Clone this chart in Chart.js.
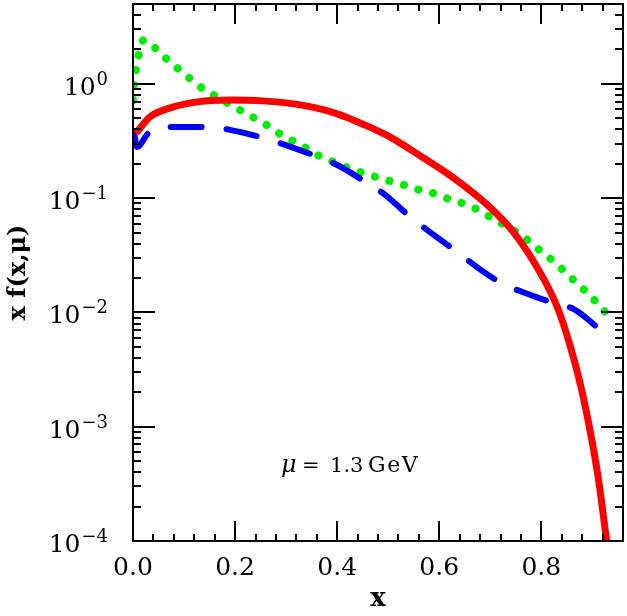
<!DOCTYPE html>
<html>
<head>
<meta charset="utf-8">
<script src="https://cdn.jsdelivr.net/npm/chart.js@4"></script>
<style>
  body { margin: 0; background: #fff; }
  #box { width: 627px; height: 616px; }
</style>
</head>
<body>
<div id="box"><canvas id="grafico"></canvas></div>
<script>
// curvas (x, x f(x,mu))
const redX = [0.006, 0.033, 0.073, 0.126, 0.19, 0.255, 0.322, 0.367, 0.406, 0.431, 0.465, 0.498, 0.563, 0.628, 0.694, 0.745, 0.798, 0.831, 0.857, 0.882, 0.91, 0.928];
const redY = [0.37, 0.514, 0.617, 0.696, 0.724, 0.71, 0.662, 0.604, 0.536, 0.484, 0.416, 0.354, 0.2345, 0.1505, 0.0874, 0.0507, 0.0222, 0.0112, 0.005, 0.00183, 0.000395, 0.0001];

const blueX = [0.002, 0.008, 0.03, 0.078, 0.147, 0.19, 0.255, 0.33, 0.40, 0.455, 0.494, 0.543, 0.576, 0.616, 0.72, 0.763, 0.824, 0.867, 0.916];
const blueY = [0.37, 0.28, 0.37, 0.42, 0.42, 0.396, 0.337, 0.26, 0.195, 0.139, 0.107, 0.0686, 0.0528, 0.039, 0.0182, 0.0151, 0.0121, 0.0105, 0.007];

const greenX = [0.0, 0.002, 0.006, 0.012, 0.02, 0.043, 0.066, 0.089, 0.113, 0.138, 0.164, 0.19, 0.216, 0.242, 0.272, 0.298, 0.326, 0.352, 0.38, 0.407, 0.437, 0.466, 0.496, 0.525, 0.555, 0.584, 0.614, 0.643, 0.671, 0.698, 0.725, 0.753, 0.776, 0.80, 0.824, 0.849, 0.87, 0.892, 0.914, 0.933];
const greenY = [0.72, 1.0, 1.35, 1.85, 2.4, 2.07, 1.65, 1.35, 1.1, 0.90, 0.77, 0.66, 0.57, 0.49, 0.41, 0.34, 0.30, 0.25, 0.22, 0.195, 0.174, 0.158, 0.144, 0.133, 0.12, 0.112, 0.10, 0.091, 0.081, 0.069, 0.059, 0.050, 0.042, 0.034, 0.028, 0.022, 0.018, 0.0145, 0.0115, 0.0092];

const xMajor = [0, 0.2, 0.4, 0.6, 0.8];
const yDecades = [-4, -3, -2, -1, 0];
const anotacao = ["=", "1.3", "GeV"];

const serif = "'DejaVu Serif', serif";

function pontos(xs, ys) {
    return xs.map((x, i) => ({ x: x, y: ys[i] }));
}

// moldura, ticks para dentro, rótulos do eixo y e a anotação
const molduraPlugin = {
    id: "moldura",
    afterDraw(chart) {
        const ctx = chart.ctx;
        const a = chart.chartArea;
        const sx = chart.scales.x, sy = chart.scales.y;
        ctx.save();
        ctx.strokeStyle = "#000";
        ctx.lineWidth = 2;
        ctx.beginPath();
        // ticks x (maiores a cada 0.2, menores a cada 0.04)
        for (let k = 0; k <= 24; k++) {
            const v = k * 0.04;
            const px = Math.round(sx.getPixelForValue(v));
            if (px > a.right - 1) continue;
            const len = (k % 5 === 0) ? 20 : 7;
            ctx.moveTo(px, a.bottom); ctx.lineTo(px, a.bottom - len);
            ctx.moveTo(px, a.top); ctx.lineTo(px, a.top + len);
        }
        // ticks y
        yDecades.forEach(d => {
            for (let m = 1; m <= 9; m++) {
                const v = m * Math.pow(10, d);
                if (v > sy.max) continue;
                const py = Math.round(sy.getPixelForValue(v));
                const len = (m === 1) ? 22 : 8;
                ctx.moveTo(a.left, py); ctx.lineTo(a.left + len, py);
                ctx.moveTo(a.right, py); ctx.lineTo(a.right - len, py);
            }
        });
        ctx.stroke();
        ctx.strokeRect(a.left, a.top, a.right - a.left, a.bottom - a.top);

        // rótulos 10^n
        ctx.fillStyle = "#000";
        ctx.textAlign = "right";
        ctx.textBaseline = "alphabetic";
        yDecades.forEach(d => {
            const py = sy.getPixelForValue(Math.pow(10, d));
            const exp = d === 0 ? "0" : "\u2212" + Math.abs(d);
            ctx.font = "18px " + serif;
            const w = ctx.measureText(exp).width;
            ctx.fillText(exp, 108, py + 1);
            ctx.font = "25px " + serif;
            ctx.fillText("10", 108 - w - 1, py + 11);
        });

        // anotação mu = 1.3 GeV
        const ax = sx.getPixelForValue(0.294);
        const ay = sy.getPixelForValue(Math.pow(10, -3.4));
        ctx.textAlign = "left";
        ctx.font = "italic 24px " + serif;
        ctx.fillText("\u03bc", ax - 2, ay);
        ctx.font = "21px " + serif;
        ctx.fillText(anotacao[0], ax + 19, ay);
        ctx.fillText(anotacao[1], ax + 47, ay);
        ctx.font = "22px " + serif;
        ctx.letterSpacing = "1.5px";
        ctx.fillText(anotacao[2], ax + 85, ay);
        ctx.restore();
    }
};

const ctx = document.getElementById("grafico").getContext("2d");
new Chart(ctx, {
    type: "line",
    data: {
        datasets: [
            {
                data: pontos(redX, redY),
                borderColor: "#ff0000",
                borderWidth: 7,
                pointRadius: 0,
                cubicInterpolationMode: "monotone",
                borderCapStyle: "butt"
            },
            {
                data: pontos(blueX, blueY),
                borderColor: "#0000ff",
                borderWidth: 6,
                pointRadius: 0,
                borderDash: [31, 25],
                borderCapStyle: "round",
                cubicInterpolationMode: "monotone"
            },
            {
                data: pontos(greenX, greenY),
                borderColor: "#00ee00",
                borderWidth: 8,
                pointRadius: 0,
                borderDash: [0.1, 15],
                borderCapStyle: "round",
                cubicInterpolationMode: "monotone"
            }
        ]
    },
    options: {
        responsive: true,
        maintainAspectRatio: false,
        animation: false,
        layout: { padding: { top: 4, right: 4, left: 0, bottom: 0 } },
        plugins: {
            legend: { display: false },
            tooltip: { enabled: false }
        },
        scales: {
            x: {
                type: "linear",
                min: 0,
                max: 0.96,
                afterBuildTicks: s => { s.ticks = xMajor.map(v => ({ value: v })); },
                afterFit: s => { s.height = 75; },
                grid: { display: false, drawTicks: false },
                border: { display: false },
                ticks: {
                    padding: 12,
                    color: "#000",
                    font: { family: serif, size: 25 },
                    callback: v => v.toFixed(1)
                },
                title: {
                    display: true,
                    text: "x",
                    color: "#000",
                    font: { family: serif, size: 26, weight: "bold" },
                    padding: { top: 0, bottom: 1 }
                }
            },
            y: {
                type: "logarithmic",
                min: 1e-4,
                max: 5,
                afterFit: s => { s.width = 133; },
                grid: { display: false, drawTicks: false },
                border: { display: false },
                ticks: { display: false },
                title: {
                    display: true,
                    text: "x f(x,\u03bc)",
                    color: "#000",
                    font: { family: serif, size: 24, weight: "bold" },
                    padding: { top: 4, bottom: 0 }
                }
            }
        }
    },
    plugins: [molduraPlugin]
});
</script>
</body>
</html>
